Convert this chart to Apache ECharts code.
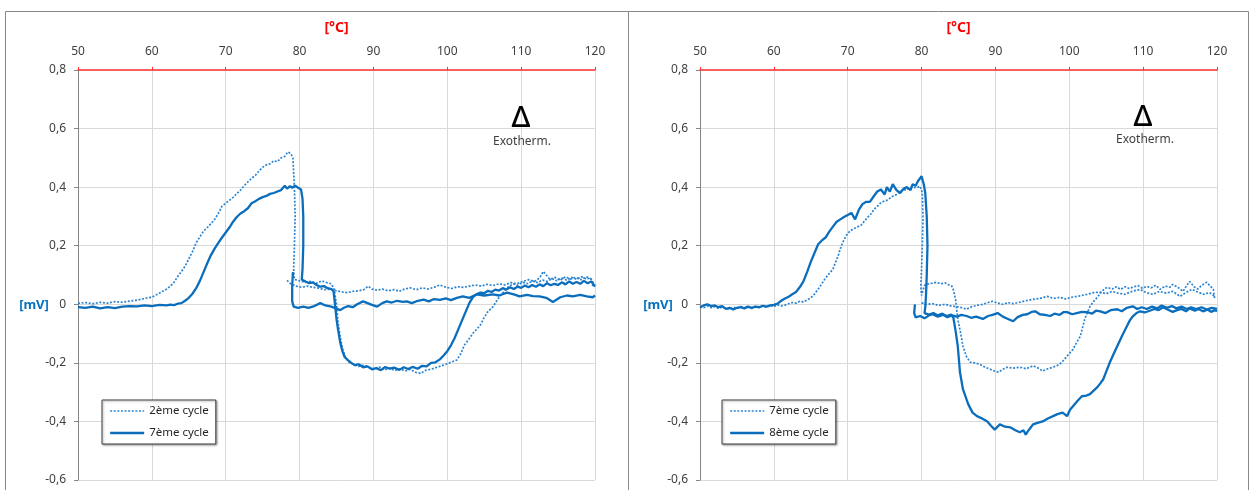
<!DOCTYPE html>
<html><head><meta charset="utf-8">
<script src="https://cdn.jsdelivr.net/npm/echarts@6/dist/echarts.min.js"></script>
<style>html,body{margin:0;padding:0;background:#fff}#c{width:1249px;height:490px}</style>
</head><body><div id="c"></div>
<script>
// ---- axis / tick definitions ----
const xTicks = [50, 60, 70, 80, 90, 100, 110, 120];
const yTicks = [-0.6, -0.4, -0.2, 0, 0.2, 0.4, 0.6, 0.8];
const xUnit = '[°C]';
const yUnit = '[mV]';
const noteText = 'Exotherm.';
const noteSymbol = 'Δ';
const leftNames = ['2ème cycle', '7ème cycle'];
const rightNames = ['7ème cycle', '8ème cycle'];

// ---- left panel: 2ème cycle (dotted), two traces ----
const left2a = [[50,0.003],[51,0.006],[52,0.002],[53,0.007],[54,0.004],[55,0.009],[56,0.007],[57,0.011],[58,0.014],[59,0.02],[60,0.024],[61,0.038],[61.5,0.045],[62,0.052],[62.5,0.062],[63,0.075],[63.5,0.095],[64,0.112],[64.5,0.13],[65,0.155],[65.5,0.18],[66,0.21],[66.5,0.23],[67,0.25],[67.5,0.262],[68,0.275],[68.5,0.29],[69,0.31],[69.5,0.335],[70,0.345],[70.5,0.355],[71,0.365],[71.5,0.378],[72,0.39],[72.5,0.405],[73,0.418],[73.5,0.43],[74,0.44],[74.5,0.455],[75,0.468],[75.5,0.476],[76,0.48],[76.5,0.49],[77,0.487],[77.5,0.5],[78,0.505],[78.4,0.52],[78.8,0.515],[79.1,0.5],[79.3,0.4],[79.4,0.3],[79.3,0.2],[79.2,0.12],[79.3,0.085],[80,0.08],[80.8,0.075],[81.5,0.078],[82.3,0.072],[83,0.08],[83.7,0.074],[84.3,0.07],[84.7,0.05],[85,0.0],[85.2,-0.06],[85.5,-0.11],[85.8,-0.15],[86.2,-0.18],[86.7,-0.198],[87.3,-0.205],[88,-0.212],[88.7,-0.208],[89.4,-0.216],[90.1,-0.22],[90.8,-0.214],[91.5,-0.224],[92.2,-0.218],[92.9,-0.226],[93.6,-0.22],[94.3,-0.228],[95,-0.222],[95.7,-0.232],[96.4,-0.236],[97.1,-0.225],[97.8,-0.222],[98.5,-0.216],[99.2,-0.21],[99.8,-0.205],[100.5,-0.198],[101.3,-0.19],[101.8,-0.17],[102.3,-0.14],[102.9,-0.12],[103.5,-0.098],[104,-0.085],[104.5,-0.07],[105,-0.045],[105.5,-0.025],[106.2,-0.008],[106.7,0.012],[107.2,0.03],[107.8,0.048],[108.3,0.06],[108.9,0.07],[109.5,0.065],[110.2,0.075],[110.9,0.07],[111.5,0.08],[112.2,0.074],[112.9,0.083],[113.5,0.078],[114.2,0.088],[114.8,0.08],[115.5,0.09],[116.2,0.082],[116.8,0.092],[117.5,0.085],[118.2,0.094],[118.8,0.086],[119.4,0.09],[119.8,0.07],[120,0.065]];
const left2b = [[78.3,0.082],[78.8,0.07],[79.5,0.062],[80.3,0.058],[81,0.062],[81.8,0.058],[82.6,0.055],[83.4,0.05],[84.2,0.052],[85,0.046],[85.8,0.042],[86.5,0.04],[87.2,0.044],[88,0.046],[88.7,0.05],[89.3,0.062],[89.8,0.052],[90.5,0.048],[91.2,0.052],[92,0.046],[92.8,0.05],[93.5,0.044],[94.2,0.052],[95,0.056],[95.8,0.05],[96.6,0.056],[97.4,0.052],[98.2,0.058],[99,0.066],[99.8,0.058],[100.6,0.054],[101.4,0.06],[102.2,0.058],[103,0.062],[103.8,0.066],[104.6,0.062],[105.4,0.068],[106.2,0.064],[107,0.07],[107.8,0.066],[108.6,0.074],[109.4,0.07],[110.2,0.078],[111,0.084],[111.8,0.078],[112.5,0.09],[113,0.112],[113.4,0.1],[113.9,0.085],[114.6,0.092],[115.3,0.082],[116,0.094],[116.7,0.086],[117.4,0.092],[118.1,0.084],[118.8,0.094],[119.4,0.088],[119.7,0.062]];

// ---- left panel: 7ème cycle (solid), two traces ----
const left7a = [[50,-0.01],[51,-0.012],[52,-0.008],[53,-0.014],[54,-0.01],[55,-0.013],[56,-0.008],[57,-0.006],[58,-0.007],[59,-0.004],[60,-0.006],[61,-0.002],[62,-0.004],[62.5,-0.001],[63,-0.003],[63.5,0.002],[64,0.004],[64.5,0.012],[65,0.022],[65.5,0.036],[66,0.055],[66.5,0.08],[67,0.11],[67.5,0.14],[68,0.168],[68.5,0.19],[69,0.21],[69.5,0.228],[70,0.245],[70.5,0.262],[71,0.282],[71.5,0.298],[72,0.31],[72.5,0.318],[73,0.328],[73.5,0.345],[74,0.352],[74.5,0.36],[75,0.366],[75.5,0.37],[76,0.377],[76.5,0.38],[77,0.385],[77.5,0.39],[78,0.405],[78.3,0.395],[78.7,0.403],[79,0.398],[79.4,0.405],[79.8,0.398],[80.2,0.392],[80.4,0.36],[80.5,0.3],[80.5,0.2],[80.4,0.12],[80.3,0.085],[80.8,0.078],[81.3,0.072],[81.8,0.075],[82.3,0.066],[82.8,0.06],[83.3,0.062],[83.8,0.055],[84.3,0.052],[84.6,0.045],[84.8,0.0],[85.0,-0.05],[85.2,-0.085],[85.5,-0.13],[85.8,-0.16],[86.1,-0.18],[86.5,-0.19],[87,-0.2],[87.5,-0.208],[88,-0.205],[88.6,-0.215],[89.2,-0.212],[89.8,-0.222],[90.4,-0.218],[91,-0.225],[91.6,-0.214],[92.2,-0.22],[92.8,-0.216],[93.5,-0.224],[94.1,-0.215],[94.7,-0.221],[95.3,-0.214],[96,-0.22],[96.6,-0.21],[97.2,-0.212],[97.8,-0.2],[98.4,-0.198],[99,-0.188],[99.5,-0.175],[100,-0.16],[100.5,-0.14],[101,-0.115],[101.5,-0.085],[102,-0.055],[102.5,-0.025],[103,0.005],[103.5,0.025],[104,0.035],[104.5,0.04],[105,0.038],[105.5,0.046],[106,0.042],[106.5,0.05],[107,0.047],[107.5,0.055],[108,0.05],[108.5,0.058],[109,0.052],[109.5,0.06],[110,0.056],[110.5,0.064],[111,0.058],[111.5,0.066],[112,0.06],[112.5,0.068],[113,0.062],[113.5,0.072],[114,0.065],[114.5,0.07],[115,0.066],[115.5,0.075],[116,0.068],[116.5,0.078],[117,0.07],[117.5,0.076],[118,0.07],[118.5,0.08],[119,0.072],[119.5,0.078],[120,0.06]];
const left7b = [[79.1,0.11],[79.0,0.06],[79.0,0.01],[79.2,-0.008],[79.8,-0.012],[80.5,-0.008],[81.2,-0.012],[82,-0.006],[82.8,0.004],[83.5,-0.004],[84.3,-0.008],[85,-0.015],[85.5,-0.02],[86,-0.012],[86.6,-0.006],[87.2,-0.01],[87.8,0.0],[88.6,0.01],[89.2,0.004],[89.8,-0.002],[90.5,-0.008],[91.2,0.004],[91.8,0.01],[92.5,0.006],[93.2,0.012],[94,0.008],[94.5,0.01],[95.2,0.004],[96,0.012],[96.8,0.016],[97.5,0.01],[98.2,0.018],[99,0.015],[99.8,0.02],[100.5,0.014],[101.3,0.022],[102.1,0.027],[103,0.022],[104,0.034],[105,0.03],[106.2,0.034],[107,0.03],[108.1,0.04],[109,0.034],[109.8,0.027],[110.8,0.032],[111.6,0.028],[112.5,0.027],[113.4,0.022],[114.3,0.008],[115.3,0.024],[116.2,0.03],[117,0.027],[118,0.032],[118.9,0.027],[119.7,0.024],[120,0.03]];

// ---- right panel: 7ème cycle (dotted), two traces ----
const right7a = [[50,-0.01],[50.5,-0.012],[51,-0.006],[51.5,-0.012],[52,-0.008],[52.5,-0.014],[53,-0.01],[53.5,-0.014],[54,-0.016],[54.5,-0.01],[55,-0.014],[55.5,-0.008],[56,-0.012],[56.5,-0.01],[57,-0.014],[57.5,-0.008],[58,-0.012],[58.5,-0.006],[59,-0.01],[59.5,-0.004],[60,-0.008],[60.5,-0.002],[61,-0.006],[61.5,-0.003],[62,0.002],[62.5,0.006],[63,0.004],[63.5,0.01],[64,0.008],[64.5,0.015],[65,0.022],[65.5,0.035],[66,0.052],[66.5,0.07],[67,0.09],[67.5,0.105],[68,0.12],[68.3,0.14],[68.7,0.165],[69,0.19],[69.4,0.215],[69.8,0.235],[70.3,0.25],[70.8,0.258],[71.3,0.264],[71.8,0.27],[72.3,0.285],[72.7,0.297],[73.2,0.31],[73.6,0.325],[74,0.334],[74.4,0.345],[74.8,0.351],[75.3,0.355],[75.7,0.362],[76.1,0.369],[76.6,0.375],[77.1,0.385],[77.5,0.392],[78,0.39],[78.4,0.398],[78.8,0.4],[79.3,0.398],[79.8,0.403],[80.1,0.38],[80.2,0.29],[80.1,0.2],[80.0,0.12],[79.9,0.06],[80.0,0.03],[80.4,0.065],[81,0.07],[81.5,0.072],[82,0.075],[82.6,0.07],[83.2,0.073],[83.7,0.066],[84.1,0.062],[84.3,0.05],[84.6,0.017],[84.9,-0.05],[85.3,-0.1],[85.6,-0.143],[86.1,-0.18],[86.6,-0.198],[87.2,-0.2],[87.9,-0.205],[88.6,-0.215],[89.3,-0.222],[89.9,-0.228],[90.4,-0.232],[91,-0.222],[91.6,-0.215],[92.4,-0.218],[93.3,-0.215],[94.2,-0.22],[95.1,-0.21],[95.8,-0.218],[96.4,-0.228],[97.1,-0.22],[97.8,-0.215],[98.7,-0.205],[99.2,-0.192],[99.7,-0.177],[100.5,-0.154],[101,-0.13],[101.5,-0.109],[102.1,-0.05],[102.8,-0.007],[103.3,0.01],[103.8,0.024],[104.4,0.045],[105.1,0.058],[105.8,0.052],[106.4,0.06],[106.9,0.051],[107.6,0.06],[108.1,0.054],[108.6,0.058],[109.3,0.064],[109.9,0.055],[110.5,0.061],[111.1,0.056],[111.7,0.065],[112.3,0.051],[113,0.062],[113.6,0.058],[114,0.068],[114.7,0.058],[115.4,0.044],[115.9,0.065],[116.3,0.078],[116.9,0.06],[117.4,0.052],[118,0.066],[118.6,0.075],[119.1,0.062],[119.5,0.051],[119.7,0.017]];
const right7b = [[80.0,0.005],[80.7,0.0],[81.5,0.002],[82.3,-0.004],[83.2,0.0],[84,-0.006],[84.8,-0.008],[85.5,-0.012],[86.1,-0.017],[86.8,-0.008],[87.5,-0.004],[88.3,0.0],[89,0.006],[89.6,0.01],[90.3,0.004],[91,0.0],[91.7,0.006],[92.4,0.002],[93.3,0.007],[94.1,0.012],[95.1,0.017],[96,0.02],[97,0.027],[97.9,0.02],[98.7,0.024],[99.5,0.018],[100.3,0.024],[101.3,0.028],[102.4,0.034],[103.3,0.04],[104.2,0.041],[105,0.036],[105.8,0.044],[106.6,0.038],[107.5,0.034],[108.5,0.044],[109.6,0.051],[110.4,0.04],[111.3,0.034],[112.2,0.044],[113.1,0.038],[114,0.044],[115,0.027],[115.8,0.04],[116.6,0.051],[117.4,0.042],[118.2,0.034],[119,0.04],[119.7,0.027]];

// ---- right panel: 8ème cycle (solid), two traces ----
const right8a = [[50,-0.01],[50.5,-0.004],[51,0.0],[51.5,-0.006],[52,-0.004],[52.5,-0.01],[53,-0.006],[53.5,-0.016],[54,-0.012],[54.5,-0.018],[55,-0.012],[55.5,-0.01],[56,-0.014],[56.5,-0.008],[57,-0.012],[57.5,-0.008],[58,-0.01],[58.5,-0.005],[59,-0.008],[59.5,-0.004],[60,-0.002],[60.5,0.002],[61,0.012],[61.5,0.02],[62,0.026],[62.5,0.034],[63,0.042],[63.5,0.058],[64,0.078],[64.5,0.11],[65,0.145],[65.5,0.175],[66,0.205],[66.5,0.218],[67,0.228],[67.5,0.248],[68,0.265],[68.5,0.282],[69,0.29],[69.5,0.298],[70,0.305],[70.5,0.312],[71,0.29],[71.5,0.322],[72,0.342],[72.5,0.35],[73,0.35],[73.5,0.368],[74,0.385],[74.5,0.392],[75,0.375],[75.3,0.4],[75.7,0.385],[76.1,0.41],[76.6,0.39],[77.1,0.38],[77.6,0.395],[78,0.4],[78.5,0.39],[78.8,0.41],[79.2,0.405],[79.5,0.42],[80,0.437],[80.3,0.41],[80.5,0.38],[80.7,0.3],[80.8,0.2],[80.7,0.1],[80.6,0.03],[80.5,-0.01],[80.4,-0.03],[81,-0.035],[81.6,-0.03],[82.2,-0.038],[82.8,-0.032],[83.4,-0.04],[84,-0.035],[84.3,-0.045],[84.6,-0.09],[84.9,-0.143],[85.2,-0.232],[85.6,-0.29],[86.3,-0.34],[86.9,-0.37],[87.5,-0.382],[88.2,-0.39],[88.9,-0.4],[89.4,-0.415],[89.9,-0.428],[90.6,-0.41],[91.3,-0.418],[92,-0.42],[92.7,-0.43],[93.3,-0.437],[93.8,-0.43],[94.1,-0.445],[94.4,-0.433],[94.8,-0.42],[95.1,-0.41],[95.7,-0.405],[96.4,-0.4],[97.1,-0.39],[97.8,-0.382],[98.4,-0.375],[99.1,-0.37],[99.7,-0.382],[100.1,-0.36],[100.5,-0.348],[101.1,-0.33],[101.7,-0.314],[102.3,-0.312],[102.8,-0.307],[103.3,-0.295],[103.8,-0.283],[104.2,-0.27],[104.6,-0.256],[105,-0.23],[105.5,-0.198],[106,-0.17],[106.6,-0.137],[107.2,-0.105],[107.8,-0.075],[108.2,-0.055],[108.6,-0.041],[109.1,-0.03],[109.6,-0.024],[110.2,-0.028],[110.9,-0.022],[111.5,-0.016],[112.1,-0.02],[112.7,-0.01],[113.3,-0.018],[114,-0.026],[114.6,-0.02],[115.2,-0.016],[115.8,-0.024],[116.3,-0.014],[117,-0.022],[117.5,-0.016],[118.1,-0.024],[118.7,-0.018],[119.2,-0.026],[119.7,-0.02],[120,-0.024]];
const right8b = [[79.1,0.0],[79.0,-0.03],[79.2,-0.045],[79.8,-0.04],[80.4,-0.048],[81,-0.038],[81.5,-0.034],[82.2,-0.042],[82.9,-0.036],[83.5,-0.044],[84.1,-0.038],[84.8,-0.042],[85.4,-0.036],[86.1,-0.04],[86.7,-0.046],[87.4,-0.042],[88.3,-0.05],[89,-0.04],[89.6,-0.036],[90.3,-0.03],[91,-0.042],[91.7,-0.05],[92.4,-0.058],[93,-0.044],[93.7,-0.036],[94.3,-0.034],[94.9,-0.026],[95.4,-0.024],[96,-0.034],[96.7,-0.036],[97.4,-0.04],[98,-0.032],[98.7,-0.036],[99.2,-0.027],[99.7,-0.027],[100.4,-0.034],[101,-0.03],[101.7,-0.026],[102.4,-0.027],[103.1,-0.032],[103.6,-0.022],[104.2,-0.024],[104.9,-0.03],[105.6,-0.02],[106.5,-0.017],[107.1,-0.024],[107.8,-0.012],[108.6,-0.007],[109.2,-0.016],[109.8,-0.01],[110.5,-0.016],[111.2,-0.008],[111.9,-0.014],[112.5,-0.004],[113.2,-0.012],[113.9,-0.006],[114.5,-0.014],[115.2,-0.008],[115.9,-0.016],[116.5,-0.01],[117.2,-0.016],[117.9,-0.01],[118.6,-0.018],[119.3,-0.012],[120,-0.016]];

// ---- styling ----
const FONT = 'Noto Sans';
const SOLID = '#0a6ebd';
const DOT = '#2a84d2';
const solidStyle = {color: SOLID, width: 2.3, type: 'solid'};
const dotStyle = {color: DOT, width: 1.7, type: [2, 1.6]};
const hidden = 'rgba(0,0,0,0)';

function fmtY(v){ return Math.abs(v) < 1e-9 ? '0' : v.toFixed(1).replace('.', ','); }

function xAxis(gi){
  return {
    gridIndex: gi, type: 'value', position: 'top',
    min: xTicks[0], max: xTicks[xTicks.length-1], interval: xTicks[1]-xTicks[0],
    name: xUnit, nameLocation: 'middle', nameGap: 35,
    nameTextStyle: {color: '#ff0000', fontWeight: 'bold', fontSize: 14, fontFamily: FONT},
    axisLine: {show: true, onZero: false, lineStyle: {color: '#ff3030', width: 1.5}},
    axisTick: {show: true, length: 3, lineStyle: {color: '#ff3030'}},
    axisLabel: {color: '#404040', fontSize: 12, fontFamily: FONT, margin: 12},
    splitLine: {show: true, lineStyle: {color: '#d9d9d9', width: 1}}
  };
}
function yAxis(gi){
  return {
    gridIndex: gi, type: 'value',
    min: yTicks[0], max: yTicks[yTicks.length-1], interval: 0.2,
    axisLine: {show: true, onZero: false, lineStyle: {color: '#868686', width: 1}},
    axisTick: {show: true, length: 4, lineStyle: {color: '#868686'}},
    axisLabel: {color: '#404040', fontSize: 12, fontFamily: FONT, margin: 12, formatter: fmtY},
    splitLine: {show: true, lineStyle: {color: '#d9d9d9', width: 1}}
  };
}
function line(name, data, gi, style){
  return {type: 'line', name: name, data: data, xAxisIndex: gi, yAxisIndex: gi,
    symbol: 'none', showSymbol: false, lineStyle: style, itemStyle: {color: style.color},
    silent: true, animation: false};
}
function legend(left, names, styles){
  return {
    left: left, top: 400, orient: 'vertical',
    data: names.map((n, i) => ({name: n,
      itemStyle: {color: hidden, borderColor: hidden, borderWidth: 0, opacity: 0},
      lineStyle: styles[i]})),
    itemWidth: 34, itemHeight: 14, itemGap: 10,
    padding: [5, 7, 5, 7],
    borderColor: '#404040', borderWidth: 1, backgroundColor: '#fff',
    shadowColor: 'rgba(0,0,0,0.35)', shadowBlur: 2, shadowOffsetX: 1, shadowOffsetY: 1,
    textStyle: {color: '#262626', fontSize: 11.5, fontFamily: FONT},
    selectedMode: false
  };
}

const chart = echarts.init(document.getElementById('c'), null, {renderer: 'canvas'});
chart.setOption({
  animation: false,
  backgroundColor: '#fff',
  grid: [
    {left: 78, top: 70, width: 517, height: 410},
    {left: 700, top: 70, width: 517, height: 410}
  ],
  xAxis: [xAxis(0), xAxis(1)],
  yAxis: [yAxis(0), yAxis(1)],
  legend: [
    legend(102, leftNames, [dotStyle, solidStyle]),
    legend(722, rightNames, [dotStyle, solidStyle])
  ],
  series: [
    line(leftNames[0], left2a, 0, dotStyle),
    line(leftNames[0], left2b, 0, dotStyle),
    line(leftNames[1], left7a, 0, solidStyle),
    line(leftNames[1], left7b, 0, solidStyle),
    line(rightNames[0], right7a, 1, dotStyle),
    line(rightNames[0], right7b, 1, dotStyle),
    line(rightNames[1], right8a, 1, solidStyle),
    line(rightNames[1], right8b, 1, solidStyle)
  ],
  graphic: [
    {type: 'rect', shape: {x: 5.5, y: 11.5, width: 623, height: 500}, style: {fill: 'none', stroke: '#878787', lineWidth: 1}, z: -1, silent: true},
    {type: 'rect', shape: {x: 628.5, y: 11.5, width: 620, height: 500}, style: {fill: 'none', stroke: '#878787', lineWidth: 1}, z: -1, silent: true},
    {type: 'text', x: 34, y: 305, style: {text: yUnit, fill: '#0070c0', font: 'bold 13px "Noto Sans"', textAlign: 'center', textVerticalAlign: 'middle'}},
    {type: 'text', x: 658, y: 305, style: {text: yUnit, fill: '#0070c0', font: 'bold 13px "Noto Sans"', textAlign: 'center', textVerticalAlign: 'middle'}},
    {type: 'text', x: 521, y: 119, style: {text: noteSymbol, fill: '#000', font: '500 29px "Noto Sans"', textAlign: 'center', textVerticalAlign: 'middle'}, z: 10},
    {type: 'text', x: 522, y: 142, style: {text: noteText, fill: '#404040', font: '12px "Noto Sans"', textAlign: 'center', textVerticalAlign: 'middle'}, z: 10},
    {type: 'text', x: 1143, y: 118, style: {text: noteSymbol, fill: '#000', font: '500 29px "Noto Sans"', textAlign: 'center', textVerticalAlign: 'middle'}, z: 10},
    {type: 'text', x: 1145, y: 140, style: {text: noteText, fill: '#404040', font: '12px "Noto Sans"', textAlign: 'center', textVerticalAlign: 'middle'}, z: 10}
  ]
});
</script>
</body></html>
